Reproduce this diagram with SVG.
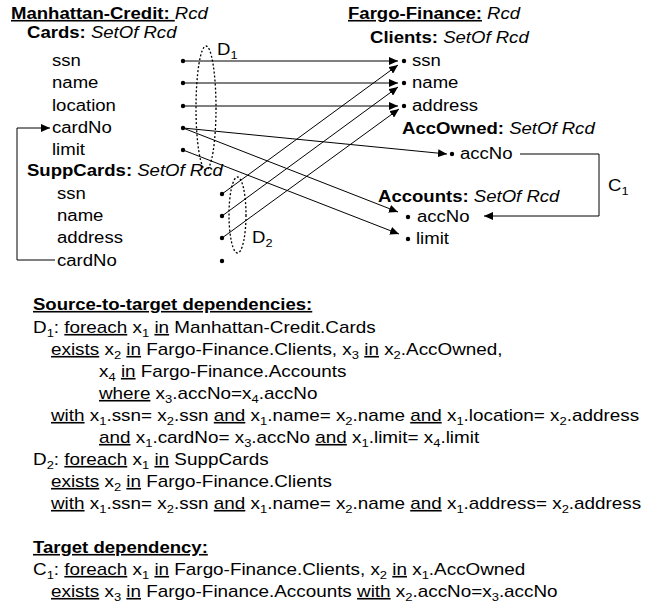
<svg xmlns="http://www.w3.org/2000/svg" width="645" height="610" viewBox="0 0 645 610">
<style>
.t{font-family:"Liberation Sans",Arial,sans-serif;font-size:16px;fill:#000}
.b{font-weight:bold}
.i{font-style:italic}
.u{text-decoration:underline}
.sb{font-size:11px;baseline-shift:-4px}
.ln{stroke:#000;stroke-width:1;fill:none}
.ar{marker-end:url(#ah)}
.dot{fill:#000}
.ell{fill:none;stroke:#000;stroke-width:1.3;stroke-dasharray:2 2}
</style>
<defs>
<marker id="ah" markerWidth="10" markerHeight="8" refX="9" refY="4" orient="auto" markerUnits="userSpaceOnUse"><path d="M0,0 L9,4 L0,8 z" fill="#000"/></marker>
</defs>
<rect width="645" height="610" fill="#fff"/>

<g id="connectors">
<line class="ln ar" x1="183" y1="61" x2="398" y2="61"/>
<line class="ln ar" x1="183" y1="83" x2="398" y2="83"/>
<line class="ln ar" x1="183" y1="106" x2="398" y2="106"/>
<line class="ln ar" x1="183" y1="128" x2="447" y2="154"/>
<line class="ln ar" x1="183" y1="128" x2="398" y2="212"/>
<line class="ln ar" x1="183" y1="150" x2="399" y2="234"/>
<line class="ln ar" x1="222" y1="194" x2="398" y2="65"/>
<line class="ln ar" x1="222" y1="216" x2="398" y2="87"/>
<line class="ln ar" x1="222" y1="238" x2="399" y2="109"/>
<polyline class="ln ar" points="520,154 599,154 599,216 484,216"/>
<polyline class="ln ar" points="55,260 17,260 17,128 50,128"/>
</g>

<g id="D1">
<ellipse class="ell" cx="206" cy="108" rx="10" ry="62"/>
<text class="t" transform="translate(217,55) scale(1.16,1)">D<tspan class="sb">1</tspan></text>
</g>
<g id="D2">
<ellipse class="ell" cx="237.5" cy="215" rx="8.5" ry="38"/>
<text class="t" transform="translate(252,243) scale(1.16,1)">D<tspan class="sb">2</tspan></text>
</g>
<g id="C1">
<text class="t" transform="translate(608,191) scale(1.16,1)">C<tspan class="sb">1</tspan></text>
</g>

<g id="manhattan-credit">
<text class="t" transform="translate(11,19) scale(1.16,1)"><tspan class="b u">Manhattan-Credit: </tspan><tspan class="i">Rcd</tspan></text>
</g>
<g id="cards">
<text class="t" transform="translate(27,38) scale(1.16,1)"><tspan class="b">Cards: </tspan><tspan class="i">SetOf Rcd</tspan></text>
</g>
<g id="cards-ssn"><text class="t" transform="translate(52,66) scale(1.16,1)">ssn</text><circle class="dot" cx="183" cy="61" r="2.2"/></g>
<g id="cards-name"><text class="t" transform="translate(52,88) scale(1.16,1)">name</text><circle class="dot" cx="183" cy="83" r="2.2"/></g>
<g id="cards-location"><text class="t" transform="translate(52,111) scale(1.16,1)">location</text><circle class="dot" cx="183" cy="106" r="2.2"/></g>
<g id="cards-cardNo"><text class="t" transform="translate(52,133) scale(1.16,1)">cardNo</text><circle class="dot" cx="183" cy="128" r="2.2"/></g>
<g id="cards-limit"><text class="t" transform="translate(52,155) scale(1.16,1)">limit</text><circle class="dot" cx="183" cy="150" r="2.2"/></g>
<g id="suppcards">
<text class="t" transform="translate(27,176) scale(1.16,1)"><tspan class="b">SuppCards: </tspan><tspan class="i">SetOf Rcd</tspan></text>
</g>
<g id="supp-ssn"><text class="t" transform="translate(57,199) scale(1.16,1)">ssn</text><circle class="dot" cx="222" cy="194" r="2.2"/></g>
<g id="supp-name"><text class="t" transform="translate(57,221) scale(1.16,1)">name</text><circle class="dot" cx="222" cy="216" r="2.2"/></g>
<g id="supp-address"><text class="t" transform="translate(57,243) scale(1.16,1)">address</text><circle class="dot" cx="222" cy="238" r="2.2"/></g>
<g id="supp-cardNo"><text class="t" transform="translate(57,266) scale(1.16,1)">cardNo</text><circle class="dot" cx="222" cy="261" r="2.2"/></g>

<g id="fargo-finance">
<text class="t" transform="translate(348,19) scale(1.16,1)"><tspan class="b u">Fargo-Finance:</tspan> <tspan class="i">Rcd</tspan></text>
</g>
<g id="clients">
<text class="t" transform="translate(370,43) scale(1.16,1)"><tspan class="b">Clients: </tspan><tspan class="i">SetOf Rcd</tspan></text>
</g>
<g id="clients-ssn"><circle class="dot" cx="404" cy="61" r="2.2"/><text class="t" transform="translate(412,66) scale(1.16,1)">ssn</text></g>
<g id="clients-name"><circle class="dot" cx="404" cy="83" r="2.2"/><text class="t" transform="translate(412,88) scale(1.16,1)">name</text></g>
<g id="clients-address"><circle class="dot" cx="404" cy="106" r="2.2"/><text class="t" transform="translate(412,111) scale(1.16,1)">address</text></g>
<g id="accowned">
<text class="t" transform="translate(402,134) scale(1.16,1)"><tspan class="b">AccOwned: </tspan><tspan class="i">SetOf Rcd</tspan></text>
</g>
<g id="accowned-accNo"><circle class="dot" cx="452" cy="154" r="2.2"/><text class="t" transform="translate(460,159) scale(1.16,1)">accNo</text></g>
<g id="accounts">
<text class="t" transform="translate(378,202) scale(1.16,1)"><tspan class="b">Accounts: </tspan><tspan class="i">SetOf Rcd</tspan></text>
</g>
<g id="accounts-accNo"><circle class="dot" cx="408" cy="217" r="2.2"/><text class="t" transform="translate(417,222) scale(1.16,1)">accNo</text></g>
<g id="accounts-limit"><circle class="dot" cx="408" cy="239" r="2.2"/><text class="t" transform="translate(416,244) scale(1.16,1)">limit</text></g>

<g id="dependencies">
<text class="t b u" transform="translate(33,310) scale(1.16,1)">Source-to-target dependencies:</text>
<text class="t" transform="translate(33,333) scale(1.18,1)">D<tspan class="sb">1</tspan>: <tspan class="u">foreach</tspan> x<tspan class="sb">1</tspan> <tspan class="u">in</tspan> Manhattan-Credit.Cards</text>
<text class="t" transform="translate(51,355) scale(1.18,1)"><tspan class="u">exists</tspan> x<tspan class="sb">2</tspan> <tspan class="u">in</tspan> Fargo-Finance.Clients, x<tspan class="sb">3</tspan> <tspan class="u">in</tspan> x<tspan class="sb">2</tspan>.AccOwned,</text>
<text class="t" transform="translate(99,377) scale(1.18,1)">x<tspan class="sb">4</tspan> <tspan class="u">in</tspan> Fargo-Finance.Accounts</text>
<text class="t" transform="translate(99,399) scale(1.18,1)"><tspan class="u">where</tspan> x<tspan class="sb">3</tspan>.accNo=x<tspan class="sb">4</tspan>.accNo</text>
<text class="t" transform="translate(51,421) scale(1.18,1)"><tspan class="u">with</tspan> x<tspan class="sb">1</tspan>.ssn= x<tspan class="sb">2</tspan>.ssn <tspan class="u">and</tspan> x<tspan class="sb">1</tspan>.name= x<tspan class="sb">2</tspan>.name <tspan class="u">and</tspan> x<tspan class="sb">1</tspan>.location= x<tspan class="sb">2</tspan>.address</text>
<text class="t" transform="translate(99,443) scale(1.18,1)"><tspan class="u">and</tspan> x<tspan class="sb">1</tspan>.cardNo= x<tspan class="sb">3</tspan>.accNo <tspan class="u">and</tspan> x<tspan class="sb">1</tspan>.limit= x<tspan class="sb">4</tspan>.limit</text>
<text class="t" transform="translate(33,465) scale(1.18,1)">D<tspan class="sb">2</tspan>: <tspan class="u">foreach</tspan> x<tspan class="sb">1</tspan> <tspan class="u">in</tspan> SuppCards</text>
<text class="t" transform="translate(51,487) scale(1.18,1)"><tspan class="u">exists</tspan> x<tspan class="sb">2</tspan> <tspan class="u">in</tspan> Fargo-Finance.Clients</text>
<text class="t" transform="translate(51,509) scale(1.18,1)"><tspan class="u">with</tspan> x<tspan class="sb">1</tspan>.ssn= x<tspan class="sb">2</tspan>.ssn <tspan class="u">and</tspan> x<tspan class="sb">1</tspan>.name= x<tspan class="sb">2</tspan>.name <tspan class="u">and</tspan> x<tspan class="sb">1</tspan>.address= x<tspan class="sb">2</tspan>.address</text>
<text class="t b u" transform="translate(33,553) scale(1.16,1)">Target dependency:</text>
<text class="t" transform="translate(33,575) scale(1.18,1)">C<tspan class="sb">1</tspan>: <tspan class="u">foreach</tspan> x<tspan class="sb">1</tspan> <tspan class="u">in</tspan> Fargo-Finance.Clients, x<tspan class="sb">2</tspan> <tspan class="u">in</tspan> x<tspan class="sb">1</tspan>.AccOwned</text>
<text class="t" transform="translate(51,597) scale(1.18,1)"><tspan class="u">exists</tspan> x<tspan class="sb">3</tspan> <tspan class="u">in</tspan> Fargo-Finance.Accounts <tspan class="u">with</tspan> x<tspan class="sb">2</tspan>.accNo=x<tspan class="sb">3</tspan>.accNo</text>
</g>
</svg>
